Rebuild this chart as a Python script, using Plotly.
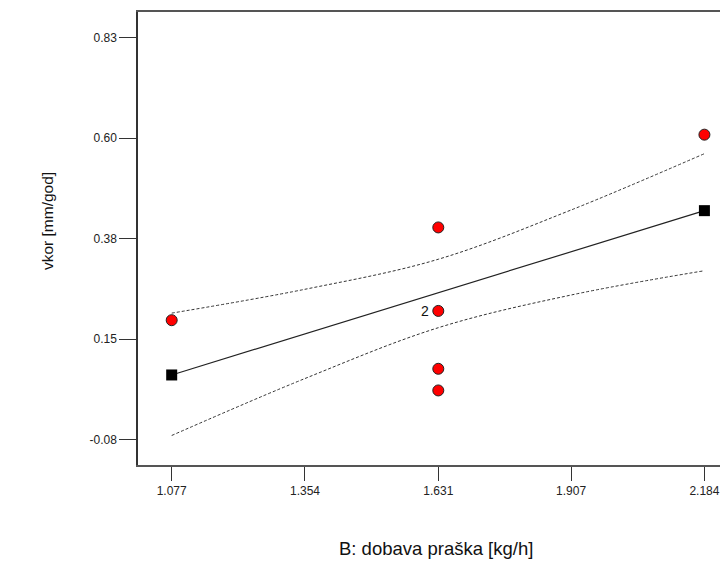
import plotly.graph_objects as go

# Design points (observed)
obs_x = [1.077, 1.631, 1.631, 1.631, 1.631, 2.184]
obs_y = [0.193, 0.403, 0.214, 0.083, 0.034, 0.613]

# Fitted line (model prediction at ends)
fit_x = [1.077, 2.184]
fit_y = [0.069, 0.441]

# Confidence band read at tick positions
band_x = [1.077, 1.354, 1.631, 1.907, 2.184]
band_upper = [0.209, 0.263, 0.331, 0.4425, 0.570]
band_lower = [-0.068, 0.061, 0.176, 0.250, 0.305]

# Ticks
x_tickvals = [1.077, 1.354, 1.631, 1.907, 2.184]
x_ticktext = ["1.077", "1.354", "1.631", "1.907", "2.184"]
y_tickvals = [-0.0775, 0.15, 0.3775, 0.605, 0.8325]
y_ticktext = ["-0.08", "0.15", "0.38", "0.60", "0.83"]

FONT = "Liberation Sans, Arial, sans-serif"

fig = go.Figure()

fig.add_trace(go.Scatter(x=band_x, y=band_upper, mode="lines",
                         line=dict(color="#333333", width=1, dash="3px,2px", shape="spline"),
                         showlegend=False, hoverinfo="skip"))
fig.add_trace(go.Scatter(x=band_x, y=band_lower, mode="lines",
                         line=dict(color="#333333", width=1, dash="3px,2px", shape="spline"),
                         showlegend=False, hoverinfo="skip"))
fig.add_trace(go.Scatter(x=fit_x, y=fit_y, mode="lines+markers",
                         line=dict(color="#222222", width=1.2),
                         marker=dict(symbol="square", size=11, color="black"),
                         showlegend=False))
fig.add_trace(go.Scatter(x=obs_x, y=obs_y, mode="markers",
                         marker=dict(symbol="circle", size=11, color="#ff0000",
                                     line=dict(color="#222222", width=1)),
                         showlegend=False))

# label "2" for replicated point
fig.add_annotation(x=obs_x[2], y=obs_y[2], text="2", showarrow=False,
                   xanchor="right", xshift=-7, yshift=0,
                   font=dict(family=FONT, size=14, color="#111111"))

# Axis titles
fig.add_annotation(x=-0.1542, y=0.5386, xref="paper", yref="paper", text="vkor [mm/god]",
                   showarrow=False, textangle=-90, xanchor="center", yanchor="middle",
                   font=dict(family=FONT, size=15.5, color="#111111"))
fig.add_annotation(x=0.505, y=-0.1854, xref="paper", yref="paper",
                   text="B: dobava praška [kg/h]",
                   showarrow=False, xanchor="center", yanchor="middle",
                   font=dict(family=FONT, size=18.5, color="#111111"))

fig.update_layout(
    width=720, height=553,
    margin=dict(l=130, r=0, t=4, b=96),
    paper_bgcolor="white", plot_bgcolor="white",
    font=dict(family=FONT, size=12, color="#222222"),
    showlegend=False,
    xaxis=dict(range=[1.007, 2.233], tickvals=x_tickvals, ticktext=x_ticktext,
               showgrid=False, zeroline=False, showline=True, linecolor="#555555",
               linewidth=1.5, mirror=True, ticks="outside", ticklen=14, tickcolor="#333333",
               tickwidth=1, tickfont=dict(size=12, family=FONT, color="#222222")),
    yaxis=dict(range=[-0.1348, 0.8907], tickvals=y_tickvals, ticktext=y_ticktext,
               showgrid=False, zeroline=False, showline=True, linecolor="#333333",
               linewidth=1.5, mirror=False, ticks="outside", ticklen=17, tickcolor="#333333",
               tickwidth=1, tickfont=dict(size=12, family=FONT, color="#222222")),
)

fig.write_html("out.html")
